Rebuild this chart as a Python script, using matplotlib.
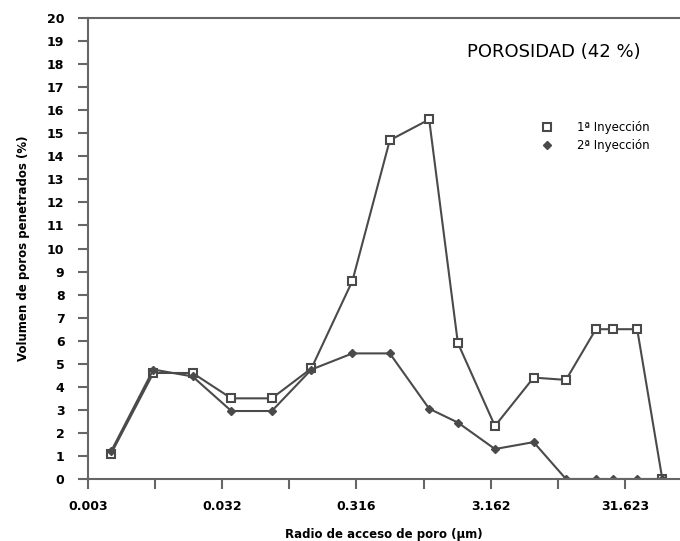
import numpy as np
import matplotlib.pyplot as plt
from matplotlib.lines import Line2D

# radio de acceso de poro (um), lecturas del grafico
radio = [0.0047, 0.0097, 0.019, 0.037, 0.074, 0.146, 0.295, 0.56, 1.1,
         1.8, 3.4, 6.6, 11.5, 19.2, 25.8, 39.0, 60.0]
iny_1 = [1.1, 4.6, 4.6, 3.5, 3.5, 4.8, 8.6, 14.7, 15.6,
         5.9, 2.3, 4.4, 4.3, 6.5, 6.5, 6.5, 0.0]
iny_2 = [1.2, 4.75, 4.45, 2.95, 2.95, 4.75, 5.45, 5.45, 3.05,
         2.45, 1.3, 1.6, 0.0, 0.0, 0.0, 0.0, 0.0]

tick_pos = 10 ** np.arange(-2.5, 2.0, 0.5)
tick_lab = ['0.003', '', '0.032', '', '0.316', '', '3.162', '', '31.623']

col = '#4a4a4a'

fig = plt.figure(figsize=(6.8, 5.41), dpi=100)
ax = fig.add_axes([0.1294, 0.1146, 0.8706, 0.852])

ax.plot(radio, iny_1, color=col, lw=1.5, marker='s', ms=6,
        mfc='white', mec=col, mew=1.5)
ax.plot(radio, iny_2, color=col, lw=1.5, marker='D', ms=4,
        mfc=col, mec=col)

ax.set_xscale('log')
ax.set_xlim(10 ** -2.5, 10 ** 1.91)
ax.set_ylim(0, 20)
ax.set_yticks(range(0, 21))
ax.set_xticks(tick_pos)
ax.set_xticklabels(tick_lab)
ax.xaxis.set_minor_locator(plt.NullLocator())

for s in ['left', 'bottom', 'top']:
    ax.spines[s].set_color('#666666')
    ax.spines[s].set_linewidth(1.5)
ax.spines['right'].set_visible(False)

ax.tick_params(axis='both', direction='out', length=7, width=1.5,
               color='#666666', labelsize=9)
ax.tick_params(axis='y', pad=10)
ax.tick_params(axis='x', pad=8)
for lab in ax.get_xticklabels() + ax.get_yticklabels():
    lab.set_fontweight('bold')

ax.set_xlabel('Radio de acceso de poro (µm)', fontsize=8.5,
              fontweight='bold', labelpad=11)
ax.set_ylabel('Volumen de poros penetrados (%)', fontsize=8.5,
              fontweight='bold', labelpad=12)

ax.text(0.64, 0.915, 'POROSIDAD (42 %)', transform=ax.transAxes,
        fontsize=13, color='black')

handles = [Line2D([], [], ls='none', marker='s', ms=6, mfc='white',
                  mec=col, mew=1.5),
           Line2D([], [], ls='none', marker='D', ms=4, mfc=col, mec=col)]
ax.legend(handles, ['1ª Inyección', '2ª Inyección'], loc='upper left',
          bbox_to_anchor=(0.755, 0.787), frameon=False, fontsize=8.5,
          handletextpad=2.0, labelspacing=0.45, handlelength=1.2,
          borderaxespad=0)

fig.savefig('out.png', dpi=100)
